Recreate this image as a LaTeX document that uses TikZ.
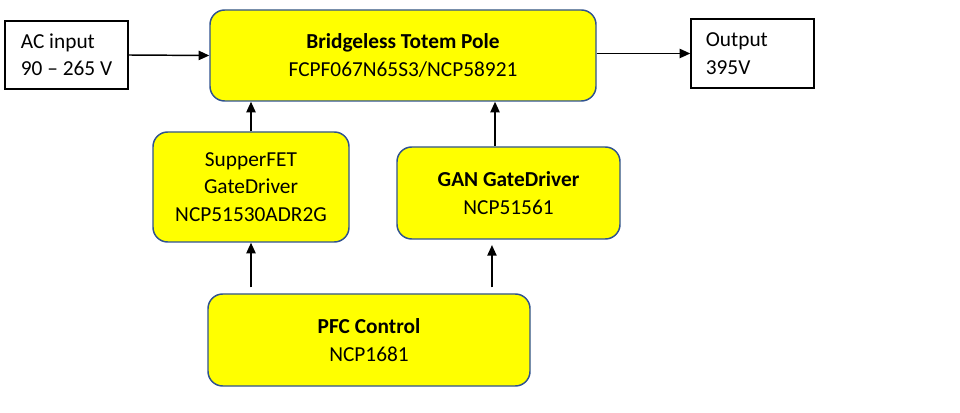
\documentclass[tikz,border=0pt]{standalone}
\usepackage{fontspec}
\setmainfont{Carlito}
\usetikzlibrary{arrows.meta,calc}
\definecolor{boxblue}{HTML}{2F528F}
\definecolor{byellow}{HTML}{FFFF00}
\begin{document}
\begin{tikzpicture}[x=0.75pt,y=-0.75pt,
  every node/.style={font=\fontsize{16}{20.5}\selectfont},
  yblock/.style={draw=boxblue,line width=1.1pt,fill=byellow,rounded corners=11pt,align=center,inner sep=0pt},
  wblock/.style={draw=black,line width=1.1pt,fill=white,align=left,inner ysep=0pt,inner xsep=0pt},
  conn/.style={line width=1.1pt,-{Triangle[length=8pt,width=7pt]}}]
\useasboundingbox (0,0) rectangle (960,413);
\node[wblock,minimum width=92.25pt,minimum height=51pt] (ac) at (66.5,55) {AC input\\90 – 265 V};
\node[yblock,minimum width=289.5pt,minimum height=68.25pt] (bt) at (403,55.5) {\textbf{Bridgeless Totem Pole}\\FCPF067N65S3/NCP58921};
\node[wblock,inner xsep=11pt,text width=70pt,minimum width=92.25pt,minimum height=51.75pt] (out) at (752.5,53.5) {Output\\395V};
\node[yblock,minimum width=147pt,minimum height=82.5pt] (sf) at (251,187) {SupperFET\\GateDriver\\NCP51530ADR2G};
\node[yblock,minimum width=167.25pt,minimum height=69pt] (gan) at (508.5,193) {\textbf{GAN GateDriver}\\NCP51561};
\node[yblock,minimum width=241.5pt,minimum height=69pt] (pfc) at (369,340) {\textbf{PFC Control}\\NCP1681};
\draw[conn] (ac.east) -- (bt.west);
\draw[conn] (bt.east |- out.west) -- (out.west);
\draw[conn] (sf.north) -- (sf.north |- bt.south);
\coordinate (g1) at ([xshift=-10.1pt]gan.north);
\draw[conn] (g1) -- (g1 |- bt.south);
\coordinate (p1) at ([yshift=4.5pt]pfc.north -| sf.south);
\draw[conn] (p1) -- (sf.south);
\coordinate (g2) at ([xshift=-12.4pt]gan.south);
\coordinate (p2) at ([yshift=4.5pt]pfc.north -| g2);
\draw[conn] (p2) -- ([yshift=-4pt]g2);
\end{tikzpicture}
\end{document}
